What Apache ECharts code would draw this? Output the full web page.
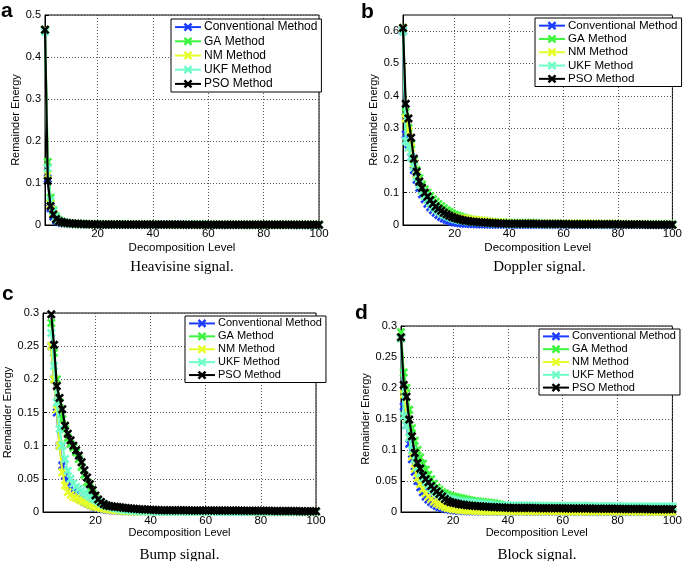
<!DOCTYPE html>
<html><head><meta charset="utf-8">
<script src="https://cdn.jsdelivr.net/npm/echarts@6/dist/echarts.min.js"></script>
<style>html,body{margin:0;padding:0;background:#fff}#c{width:685px;height:561px}</style>
</head><body><div id="c"></div>
<script>
const methodNames = ['Conventional Method','GA Method','NM Method','UKF Method','PSO Method'];
const methodColors = ['#1a3cff','#3cf53c','#e6ff2a','#6effc8','#000000'];
const xTickValues = [20,40,60,80,100];
const yTicksA = [0,0.1,0.2,0.3,0.4,0.5];
const yTicksB = [0,0.1,0.2,0.3,0.4,0.5,0.6];
const yTicksCD = [0,0.05,0.1,0.15,0.2,0.25,0.3];
const captions = ['Heavisine signal.','Doppler signal.','Bump signal.','Block signal.'];
const panelLetters = ['a','b','c','d'];
const firstLevel = [1,1,4,1];

// Panel a: Heavisine (levels 1..100)
const convA = [0.465,0.110,0.040,0.020,0.011,0.007,0.005,0.004,0.003,0.0025,
0.0022,0.0019,0.0017,0.0015,0.0013,0.0012,0.0011,0.0010,0.0009,0.0009,
0.0008,0.0008,0.0008,0.0008,0.0008,0.0008,0.0008,0.0008,0.0008,0.0008,
0.0007,0.0007,0.0007,0.0007,0.0007,0.0007,0.0007,0.0007,0.0007,0.0007,
0.0006,0.0006,0.0006,0.0006,0.0006,0.0006,0.0006,0.0006,0.0006,0.0006,
0.0005,0.0005,0.0005,0.0005,0.0005,0.0005,0.0005,0.0005,0.0005,0.0005,
0.0004,0.0004,0.0004,0.0004,0.0004,0.0004,0.0004,0.0004,0.0004,0.0004,
0.0004,0.0004,0.0004,0.0004,0.0004,0.0004,0.0004,0.0004,0.0004,0.0004,
0.0003,0.0003,0.0003,0.0003,0.0003,0.0003,0.0003,0.0003,0.0003,0.0003,
0.0002,0.0002,0.0002,0.0002,0.0002,0.0002,0.0002,0.0002,0.0002,0.0002];
const gaA = [0.465,0.150,0.065,0.035,0.020,0.012,0.008,0.006,0.005,0.004,
0.0035,0.0031,0.0028,0.0025,0.0023,0.0021,0.0019,0.0018,0.0017,0.0016,
0.0015,0.0015,0.0015,0.0015,0.0015,0.0015,0.0015,0.0015,0.0015,0.0015,
0.0013,0.0013,0.0013,0.0013,0.0013,0.0013,0.0013,0.0013,0.0013,0.0013,
0.0011,0.0011,0.0011,0.0011,0.0011,0.0011,0.0011,0.0011,0.0011,0.0011,
0.0010,0.0010,0.0010,0.0010,0.0010,0.0010,0.0010,0.0010,0.0010,0.0010,
0.0009,0.0009,0.0009,0.0009,0.0009,0.0009,0.0009,0.0009,0.0009,0.0009,
0.0008,0.0008,0.0008,0.0008,0.0008,0.0008,0.0008,0.0008,0.0008,0.0008,
0.0007,0.0007,0.0007,0.0007,0.0007,0.0007,0.0007,0.0007,0.0007,0.0007,
0.0006,0.0006,0.0006,0.0006,0.0006,0.0006,0.0006,0.0006,0.0006,0.0006];
const nmA = [0.465,0.120,0.050,0.028,0.016,0.010,0.007,0.005,0.004,0.0032,
0.0027,0.0023,0.0020,0.0018,0.0016,0.0015,0.0014,0.0013,0.0012,0.0011,
0.0010,0.0010,0.0010,0.0010,0.0010,0.0010,0.0010,0.0010,0.0010,0.0010,
0.0009,0.0009,0.0009,0.0009,0.0009,0.0009,0.0009,0.0009,0.0009,0.0009,
0.0008,0.0008,0.0008,0.0008,0.0008,0.0008,0.0008,0.0008,0.0008,0.0008,
0.0007,0.0007,0.0007,0.0007,0.0007,0.0007,0.0007,0.0007,0.0007,0.0007,
0.0006,0.0006,0.0006,0.0006,0.0006,0.0006,0.0006,0.0006,0.0006,0.0006,
0.0005,0.0005,0.0005,0.0005,0.0005,0.0005,0.0005,0.0005,0.0005,0.0005,
0.0004,0.0004,0.0004,0.0004,0.0004,0.0004,0.0004,0.0004,0.0004,0.0004,
0.0003,0.0003,0.0003,0.0003,0.0003,0.0003,0.0003,0.0003,0.0003,0.0003];
const ukfA = [0.460,0.135,0.058,0.032,0.018,0.011,0.008,0.006,0.0045,0.0038,
0.0032,0.0028,0.0025,0.0022,0.0020,0.0018,0.0017,0.0016,0.0015,0.0014,
0.0013,0.0013,0.0013,0.0013,0.0013,0.0013,0.0013,0.0013,0.0013,0.0013,
0.0012,0.0012,0.0012,0.0012,0.0012,0.0012,0.0012,0.0012,0.0012,0.0012,
0.0010,0.0010,0.0010,0.0010,0.0010,0.0010,0.0010,0.0010,0.0010,0.0010,
0.0009,0.0009,0.0009,0.0009,0.0009,0.0009,0.0009,0.0009,0.0009,0.0009,
0.0008,0.0008,0.0008,0.0008,0.0008,0.0008,0.0008,0.0008,0.0008,0.0008,
0.0007,0.0007,0.0007,0.0007,0.0007,0.0007,0.0007,0.0007,0.0007,0.0007,
0.0006,0.0006,0.0006,0.0006,0.0006,0.0006,0.0006,0.0006,0.0006,0.0006,
0.0005,0.0005,0.0005,0.0005,0.0005,0.0005,0.0005,0.0005,0.0005,0.0005];
const psoA = [0.465,0.105,0.045,0.025,0.014,0.009,0.007,0.0055,0.0045,0.0040,
0.0035,0.0030,0.0027,0.0024,0.0022,0.0020,0.0018,0.0016,0.0015,0.0014,
0.0012,0.0012,0.0012,0.0012,0.0012,0.0012,0.0012,0.0012,0.0012,0.0012,
0.0010,0.0010,0.0010,0.0010,0.0010,0.0010,0.0010,0.0010,0.0010,0.0010,
0.0009,0.0009,0.0009,0.0009,0.0009,0.0009,0.0009,0.0009,0.0009,0.0009,
0.0008,0.0008,0.0008,0.0008,0.0008,0.0008,0.0008,0.0008,0.0008,0.0008,
0.0007,0.0007,0.0007,0.0007,0.0007,0.0007,0.0007,0.0007,0.0007,0.0007,
0.0006,0.0006,0.0006,0.0006,0.0006,0.0006,0.0006,0.0006,0.0006,0.0006,
0.0005,0.0005,0.0005,0.0005,0.0005,0.0005,0.0005,0.0005,0.0005,0.0005,
0.0004,0.0004,0.0004,0.0004,0.0004,0.0004,0.0004,0.0004,0.0004,0.0004];

// Panel b: Doppler (levels 1..100)
const convB = [0.600,0.280,0.250,0.210,0.170,0.140,0.115,0.095,0.080,0.066,
0.055,0.046,0.038,0.031,0.025,0.020,0.016,0.013,0.010,0.008,
0.0065,0.0055,0.0045,0.0040,0.0035,0.0030,0.0028,0.0026,0.0024,0.0022,
0.0020,0.0019,0.0018,0.0017,0.0016,0.0015,0.0014,0.0013,0.0012,0.0011,
0.0010,0.0010,0.0010,0.0010,0.0010,0.0010,0.0010,0.0010,0.0010,0.0010,
0.0009,0.0009,0.0009,0.0009,0.0009,0.0009,0.0009,0.0009,0.0009,0.0009,
0.0008,0.0008,0.0008,0.0008,0.0008,0.0008,0.0008,0.0008,0.0008,0.0008,
0.0006,0.0006,0.0006,0.0006,0.0006,0.0006,0.0006,0.0006,0.0006,0.0006,
0.0005,0.0005,0.0005,0.0005,0.0005,0.0005,0.0005,0.0005,0.0005,0.0005,
0.0004,0.0004,0.0004,0.0004,0.0004,0.0004,0.0004,0.0004,0.0004,0.0004];
const gaB = [0.610,0.350,0.300,0.250,0.200,0.170,0.145,0.125,0.110,0.100,
0.090,0.080,0.072,0.065,0.058,0.052,0.046,0.041,0.036,0.032,
0.029,0.026,0.023,0.021,0.019,0.017,0.016,0.015,0.014,0.013,
0.012,0.011,0.010,0.0095,0.0090,0.0085,0.0080,0.0075,0.0070,0.0065,
0.0060,0.0060,0.0060,0.0060,0.0060,0.0060,0.0060,0.0060,0.0060,0.0060,
0.0050,0.0050,0.0050,0.0050,0.0050,0.0050,0.0050,0.0050,0.0050,0.0050,
0.0040,0.0040,0.0040,0.0040,0.0040,0.0040,0.0040,0.0040,0.0040,0.0040,
0.0030,0.0030,0.0030,0.0030,0.0030,0.0030,0.0030,0.0030,0.0030,0.0030,
0.0025,0.0025,0.0025,0.0025,0.0025,0.0025,0.0025,0.0025,0.0025,0.0025,
0.0020,0.0020,0.0020,0.0020,0.0020,0.0020,0.0020,0.0020,0.0020,0.0020];
const nmB = [0.610,0.330,0.290,0.240,0.190,0.155,0.125,0.105,0.090,0.078,
0.068,0.058,0.050,0.044,0.039,0.035,0.032,0.029,0.026,0.024,
0.022,0.021,0.020,0.019,0.018,0.017,0.016,0.015,0.014,0.013,
0.012,0.011,0.010,0.009,0.008,0.0075,0.0070,0.0065,0.0060,0.0055,
0.0050,0.0050,0.0050,0.0050,0.0050,0.0050,0.0050,0.0050,0.0050,0.0050,
0.0040,0.0040,0.0040,0.0040,0.0040,0.0040,0.0040,0.0040,0.0040,0.0040,
0.0035,0.0035,0.0035,0.0035,0.0035,0.0035,0.0035,0.0035,0.0035,0.0035,
0.0030,0.0030,0.0030,0.0030,0.0030,0.0030,0.0030,0.0030,0.0030,0.0030,
0.0025,0.0025,0.0025,0.0025,0.0025,0.0025,0.0025,0.0025,0.0025,0.0025,
0.0020,0.0020,0.0020,0.0020,0.0020,0.0020,0.0020,0.0020,0.0020,0.0020];
const ukfB = [0.600,0.260,0.240,0.210,0.180,0.150,0.125,0.105,0.090,0.078,
0.068,0.058,0.050,0.043,0.037,0.032,0.028,0.024,0.021,0.018,
0.016,0.014,0.013,0.012,0.011,0.010,0.009,0.0085,0.0080,0.0075,
0.0070,0.0065,0.0060,0.0055,0.0050,0.0046,0.0042,0.0038,0.0035,0.0032,
0.0030,0.0030,0.0030,0.0030,0.0030,0.0030,0.0030,0.0030,0.0030,0.0030,
0.0025,0.0025,0.0025,0.0025,0.0025,0.0025,0.0025,0.0025,0.0025,0.0025,
0.0020,0.0020,0.0020,0.0020,0.0020,0.0020,0.0020,0.0020,0.0020,0.0020,
0.0018,0.0018,0.0018,0.0018,0.0018,0.0018,0.0018,0.0018,0.0018,0.0018,
0.0015,0.0015,0.0015,0.0015,0.0015,0.0015,0.0015,0.0015,0.0015,0.0015,
0.0012,0.0012,0.0012,0.0012,0.0012,0.0012,0.0012,0.0012,0.0012,0.0012];
const psoB = [0.610,0.375,0.330,0.270,0.205,0.165,0.135,0.115,0.100,0.088,
0.077,0.066,0.057,0.050,0.044,0.038,0.033,0.029,0.025,0.022,
0.019,0.017,0.015,0.013,0.012,0.011,0.010,0.009,0.0085,0.0080,
0.0075,0.0070,0.0065,0.0060,0.0055,0.0050,0.0047,0.0044,0.0041,0.0038,
0.0035,0.0035,0.0035,0.0035,0.0035,0.0035,0.0035,0.0035,0.0035,0.0035,
0.0030,0.0030,0.0030,0.0030,0.0030,0.0030,0.0030,0.0030,0.0030,0.0030,
0.0025,0.0025,0.0025,0.0025,0.0025,0.0025,0.0025,0.0025,0.0025,0.0025,
0.0020,0.0020,0.0020,0.0020,0.0020,0.0020,0.0020,0.0020,0.0020,0.0020,
0.0015,0.0015,0.0015,0.0015,0.0015,0.0015,0.0015,0.0015,0.0015,0.0015,
0.0010,0.0010,0.0010,0.0010,0.0010,0.0010,0.0010,0.0010,0.0010,0.0010];

// Panel c: Bump (levels 4..100)
const convC = [0.250,0.200,0.150,0.100,0.070,0.055,0.045,0.038,0.030,0.025,
0.021,0.018,0.015,0.013,0.011,0.009,0.007,0.006,0.005,0.004,
0.0035,0.0030,0.0026,0.0022,0.0019,0.0016,0.0014,0.0012,0.0010,0.0009,
0.0008,0.0008,0.0008,0.0008,0.0008,0.0008,0.0008,0.0008,0.0008,0.0008,
0.0007,0.0007,0.0007,0.0007,0.0007,0.0007,0.0007,0.0007,0.0007,0.0007,
0.0006,0.0006,0.0006,0.0006,0.0006,0.0006,0.0006,0.0006,0.0006,0.0006,
0.0005,0.0005,0.0005,0.0005,0.0005,0.0005,0.0005,0.0005,0.0005,0.0005,
0.0004,0.0004,0.0004,0.0004,0.0004,0.0004,0.0004,0.0004,0.0004,0.0004,
0.0003,0.0003,0.0003,0.0003,0.0003,0.0003,0.0003,0.0003,0.0003,0.0003,
0.0002,0.0002,0.0002,0.0002,0.0002,0.0002,0.0002];
const gaC = [0.285,0.240,0.200,0.165,0.140,0.125,0.112,0.103,0.097,0.090,
0.080,0.068,0.056,0.045,0.036,0.028,0.022,0.017,0.013,0.010,
0.008,0.007,0.006,0.0055,0.0050,0.0045,0.0040,0.0037,0.0034,0.0031,
0.0029,0.0027,0.0025,0.0023,0.0021,0.0020,0.0019,0.0018,0.0017,0.0016,
0.0015,0.0015,0.0015,0.0015,0.0015,0.0015,0.0015,0.0015,0.0015,0.0015,
0.0013,0.0013,0.0013,0.0013,0.0013,0.0013,0.0013,0.0013,0.0013,0.0013,
0.0011,0.0011,0.0011,0.0011,0.0011,0.0011,0.0011,0.0011,0.0011,0.0011,
0.0009,0.0009,0.0009,0.0009,0.0009,0.0009,0.0009,0.0009,0.0009,0.0009,
0.0008,0.0008,0.0008,0.0008,0.0008,0.0008,0.0008,0.0008,0.0008,0.0008,
0.0007,0.0007,0.0007,0.0007,0.0007,0.0007,0.0007];
const nmC = [0.250,0.200,0.155,0.100,0.060,0.040,0.030,0.026,0.023,0.021,
0.019,0.017,0.015,0.013,0.011,0.009,0.008,0.0068,0.0058,0.0050,
0.0042,0.0035,0.0030,0.0025,0.0021,0.0018,0.0015,0.0013,0.0011,0.0010,
0.0009,0.0009,0.0009,0.0009,0.0009,0.0009,0.0009,0.0009,0.0009,0.0009,
0.0008,0.0008,0.0008,0.0008,0.0008,0.0008,0.0008,0.0008,0.0008,0.0008,
0.0007,0.0007,0.0007,0.0007,0.0007,0.0007,0.0007,0.0007,0.0007,0.0007,
0.0006,0.0006,0.0006,0.0006,0.0006,0.0006,0.0006,0.0006,0.0006,0.0006,
0.0005,0.0005,0.0005,0.0005,0.0005,0.0005,0.0005,0.0005,0.0005,0.0005,
0.0004,0.0004,0.0004,0.0004,0.0004,0.0004,0.0004,0.0004,0.0004,0.0004,
0.0003,0.0003,0.0003,0.0003,0.0003,0.0003,0.0003];
const ukfC = [0.270,0.220,0.165,0.125,0.100,0.080,0.062,0.050,0.043,0.038,
0.035,0.032,0.029,0.026,0.023,0.020,0.018,0.016,0.013,0.011,
0.009,0.008,0.007,0.006,0.005,0.0042,0.0036,0.0030,0.0026,0.0022,
0.0020,0.0018,0.0016,0.0014,0.0013,0.0012,0.0011,0.0010,0.0009,0.0008,
0.0007,0.0007,0.0007,0.0007,0.0007,0.0007,0.0007,0.0007,0.0007,0.0007,
0.0006,0.0006,0.0006,0.0006,0.0006,0.0006,0.0006,0.0006,0.0006,0.0006,
0.0005,0.0005,0.0005,0.0005,0.0005,0.0005,0.0005,0.0005,0.0005,0.0005,
0.0004,0.0004,0.0004,0.0004,0.0004,0.0004,0.0004,0.0004,0.0004,0.0004,
0.0003,0.0003,0.0003,0.0003,0.0003,0.0003,0.0003,0.0003,0.0003,0.0003,
0.0003,0.0003,0.0003,0.0003,0.0003,0.0003,0.0003];
const psoC = [0.298,0.252,0.190,0.172,0.155,0.130,0.118,0.108,0.100,0.093,
0.085,0.075,0.063,0.052,0.042,0.033,0.025,0.019,0.015,0.012,
0.010,0.009,0.0085,0.0080,0.0075,0.0070,0.0065,0.0060,0.0056,0.0052,
0.0048,0.0045,0.0042,0.0040,0.0038,0.0036,0.0034,0.0032,0.0030,0.0029,
0.0027,0.0027,0.0027,0.0027,0.0027,0.0027,0.0027,0.0027,0.0027,0.0027,
0.0024,0.0024,0.0024,0.0024,0.0024,0.0024,0.0024,0.0024,0.0024,0.0024,
0.0021,0.0021,0.0021,0.0021,0.0021,0.0021,0.0021,0.0021,0.0021,0.0021,
0.0018,0.0018,0.0018,0.0018,0.0018,0.0018,0.0018,0.0018,0.0018,0.0018,
0.0015,0.0015,0.0015,0.0015,0.0015,0.0015,0.0015,0.0015,0.0015,0.0015,
0.0012,0.0012,0.0012,0.0012,0.0012,0.0012,0.0012];

// Panel d: Block (levels 1..100)
const convD = [0.280,0.170,0.140,0.110,0.085,0.065,0.050,0.040,0.032,0.025,
0.020,0.016,0.013,0.010,0.008,0.0065,0.0053,0.0043,0.0035,0.0030,
0.0026,0.0022,0.0020,0.0018,0.0016,0.0014,0.0013,0.0012,0.0011,0.0010,
0.0009,0.0009,0.0009,0.0009,0.0009,0.0009,0.0009,0.0009,0.0009,0.0009,
0.0008,0.0008,0.0008,0.0008,0.0008,0.0008,0.0008,0.0008,0.0008,0.0008,
0.0007,0.0007,0.0007,0.0007,0.0007,0.0007,0.0007,0.0007,0.0007,0.0007,
0.0006,0.0006,0.0006,0.0006,0.0006,0.0006,0.0006,0.0006,0.0006,0.0006,
0.0005,0.0005,0.0005,0.0005,0.0005,0.0005,0.0005,0.0005,0.0005,0.0005,
0.0004,0.0004,0.0004,0.0004,0.0004,0.0004,0.0004,0.0004,0.0004,0.0004,
0.0003,0.0003,0.0003,0.0003,0.0003,0.0003,0.0003,0.0003,0.0003,0.0003];
const gaD = [0.290,0.225,0.200,0.165,0.135,0.115,0.100,0.088,0.078,0.068,
0.060,0.053,0.046,0.040,0.036,0.032,0.030,0.028,0.026,0.025,
0.024,0.023,0.022,0.021,0.020,0.019,0.018,0.0175,0.0170,0.0165,
0.0160,0.0155,0.0150,0.0145,0.0140,0.0130,0.0120,0.0110,0.0105,0.0100,
0.0098,0.0098,0.0098,0.0098,0.0098,0.0098,0.0098,0.0098,0.0098,0.0098,
0.0094,0.0094,0.0094,0.0094,0.0094,0.0094,0.0094,0.0094,0.0094,0.0094,
0.0090,0.0090,0.0090,0.0090,0.0090,0.0090,0.0090,0.0090,0.0090,0.0090,
0.0085,0.0085,0.0085,0.0085,0.0085,0.0085,0.0085,0.0085,0.0085,0.0085,
0.0080,0.0080,0.0080,0.0080,0.0080,0.0080,0.0080,0.0080,0.0080,0.0080,
0.0075,0.0075,0.0075,0.0075,0.0075,0.0075,0.0075,0.0075,0.0075,0.0075];
const nmD = [0.280,0.190,0.150,0.120,0.090,0.070,0.055,0.045,0.037,0.030,
0.025,0.021,0.017,0.014,0.012,0.010,0.008,0.0065,0.0055,0.0045,
0.0040,0.0035,0.0030,0.0027,0.0024,0.0022,0.0020,0.0018,0.0016,0.0015,
0.0014,0.0014,0.0014,0.0014,0.0014,0.0014,0.0014,0.0014,0.0014,0.0014,
0.0013,0.0013,0.0013,0.0013,0.0013,0.0013,0.0013,0.0013,0.0013,0.0013,
0.0012,0.0012,0.0012,0.0012,0.0012,0.0012,0.0012,0.0012,0.0012,0.0012,
0.0010,0.0010,0.0010,0.0010,0.0010,0.0010,0.0010,0.0010,0.0010,0.0010,
0.0009,0.0009,0.0009,0.0009,0.0009,0.0009,0.0009,0.0009,0.0009,0.0009,
0.0007,0.0007,0.0007,0.0007,0.0007,0.0007,0.0007,0.0007,0.0007,0.0007,
0.0006,0.0006,0.0006,0.0006,0.0006,0.0006,0.0006,0.0006,0.0006,0.0006];
const ukfD = [0.280,0.155,0.140,0.120,0.100,0.085,0.072,0.062,0.055,0.048,
0.043,0.038,0.034,0.031,0.028,0.026,0.024,0.022,0.021,0.020,
0.019,0.018,0.0175,0.0170,0.0165,0.0160,0.0155,0.0150,0.0145,0.0140,
0.0135,0.0130,0.0125,0.0120,0.0115,0.0110,0.0108,0.0106,0.0104,0.0102,
0.0100,0.0100,0.0100,0.0100,0.0100,0.0100,0.0100,0.0100,0.0100,0.0100,
0.0098,0.0098,0.0098,0.0098,0.0098,0.0098,0.0098,0.0098,0.0098,0.0098,
0.0095,0.0095,0.0095,0.0095,0.0095,0.0095,0.0095,0.0095,0.0095,0.0095,
0.0092,0.0092,0.0092,0.0092,0.0092,0.0092,0.0092,0.0092,0.0092,0.0092,
0.0090,0.0090,0.0090,0.0090,0.0090,0.0090,0.0090,0.0090,0.0090,0.0090,
0.0088,0.0088,0.0088,0.0088,0.0088,0.0088,0.0088,0.0088,0.0088,0.0088];
const psoD = [0.282,0.205,0.186,0.149,0.122,0.095,0.079,0.070,0.059,0.053,
0.048,0.042,0.037,0.033,0.029,0.025,0.021,0.018,0.016,0.015,
0.014,0.013,0.012,0.0115,0.0110,0.0105,0.0100,0.0097,0.0094,0.0091,
0.0088,0.0085,0.0082,0.0080,0.0078,0.0076,0.0074,0.0072,0.0070,0.0068,
0.0066,0.0066,0.0066,0.0066,0.0066,0.0066,0.0066,0.0066,0.0066,0.0066,
0.0062,0.0062,0.0062,0.0062,0.0062,0.0062,0.0062,0.0062,0.0062,0.0062,
0.0058,0.0058,0.0058,0.0058,0.0058,0.0058,0.0058,0.0058,0.0058,0.0058,
0.0054,0.0054,0.0054,0.0054,0.0054,0.0054,0.0054,0.0054,0.0054,0.0054,
0.0050,0.0050,0.0050,0.0050,0.0050,0.0050,0.0050,0.0050,0.0050,0.0050,
0.0046,0.0046,0.0046,0.0046,0.0046,0.0046,0.0046,0.0046,0.0046,0.0046];

const panelSeries = [
  [convA, gaA, nmA, ukfA, psoA],
  [convB, gaB, nmB, ukfB, psoB],
  [convC, gaC, nmC, ukfC, psoC],
  [convD, gaD, nmD, ukfD, psoD]
];
const panelYTicks = [yTicksA, yTicksB, yTicksCD, yTicksCD];
const panelYMax = [0.5, 0.65, 0.3, 0.3];

// layout (pixels)
const grids = [
  {left: 45, top: 15, width: 274, height: 210},
  {left: 403, top: 15, width: 273, height: 210},
  {left: 43, top: 313, width: 273, height: 199},
  {left: 401, top: 326, width: 272, height: 186}
];
const legendPos = [
  {left: 171, top: 19, font: 12, lh: 14.2},
  {left: 535, top: 18, font: 11.6, lh: 13.3},
  {left: 185, top: 316, font: 11, lh: 12.9},
  {left: 539, top: 329, font: 11, lh: 12.8}
];
const yNameGap = [24, 21, 26, 27];
const xNameGap = [17, 17, 13, 14];
const captionY = [267, 267, 555, 555];
const letterPos = [[1, 11], [361, 12], [2, 294], [355, 313]];

const SANS = 'Liberation Sans, Arial, sans-serif';
const xMark = 'path://M0,2L2,0L5,3L8,0L10,2L7,5L10,8L8,10L5,7L2,10L0,8L3,5Z';

const option = {
  animation: false,
  backgroundColor: '#fff',
  grid: grids.map(g => Object.assign({show: true, borderColor: '#000', borderWidth: 1, backgroundColor: '#fff', containLabel: false}, g)),
  xAxis: grids.map((g, i) => ({
    type: 'value', gridIndex: i, min: 1, max: 100,
    name: 'Decomposition Level', nameLocation: 'middle', nameGap: xNameGap[i],
    nameTextStyle: {fontFamily: SANS, fontSize: i < 2 ? 11.5 : 11, color: '#000'},
    axisLine: {show: true, onZero: false, lineStyle: {color: '#000', width: 1}},
    axisTick: {show: true, inside: true, length: 4, customValues: xTickValues, lineStyle: {color: '#000'}},
    axisLabel: {customValues: xTickValues, fontFamily: SANS, fontSize: 11.5, color: '#000', margin: 3},
    splitLine: {show: true, lineStyle: {color: '#555', type: [1, 2], width: 1}}
  })),
  yAxis: grids.map((g, i) => ({
    type: 'value', gridIndex: i, min: 0, max: panelYMax[i],
    name: 'Remainder Energy', nameLocation: 'middle', nameGap: yNameGap[i],
    nameTextStyle: {fontFamily: SANS, fontSize: 11, color: '#000'},
    axisLine: {show: true, onZero: false, lineStyle: {color: '#000', width: 1}},
    axisTick: {show: true, inside: true, length: 4, customValues: panelYTicks[i], lineStyle: {color: '#000'}},
    axisLabel: {customValues: panelYTicks[i], fontFamily: SANS, fontSize: 11, color: '#000', margin: 4},
    splitLine: {show: true, lineStyle: {color: '#555', type: [1, 2], width: 1}}
  })),
  legend: legendPos.map(p => ({
    orient: 'vertical', left: p.left, top: p.top,
    data: methodNames,
    itemWidth: 26, itemHeight: 11, itemGap: 0,
    padding: [1, 4, 1, 3],
    borderColor: '#000', borderWidth: 1, borderRadius: 0, backgroundColor: '#fff',
    selectedMode: false,
    textStyle: {fontFamily: SANS, fontSize: p.font, color: '#000', lineHeight: p.lh, padding: [0, 0, 0, -2]}
  })),
  series: [],
  graphic: []
};

panelSeries.forEach((arrs, p) => {
  arrs.forEach((arr, m) => {
    option.series.push({
      type: 'line', name: methodNames[m],
      xAxisIndex: p, yAxisIndex: p,
      data: arr.map((v, i) => [firstLevel[p] + i, v]),
      symbol: xMark, symbolSize: 9, showSymbol: true,
      itemStyle: {color: methodColors[m]},
      lineStyle: {color: methodColors[m], width: 2.2},
      z: 2 + m
    });
  });
  const g = grids[p];
  option.graphic.push({
    type: 'text', x: g.left + g.width / 2, y: captionY[p],
    style: {text: captions[p], fontFamily: 'Liberation Serif, Times New Roman, serif', fontSize: 15, fill: '#000', align: 'center', verticalAlign: 'middle'}
  });
  option.graphic.push({
    type: 'text', x: letterPos[p][0], y: letterPos[p][1],
    style: {text: panelLetters[p], fontFamily: SANS, fontWeight: 'bold', fontSize: 21, fill: '#000', align: 'left', verticalAlign: 'middle'}
  });
});

const chart = echarts.init(document.getElementById('c'), null, {renderer: 'canvas'});
chart.setOption(option);
</script>
</body></html>
